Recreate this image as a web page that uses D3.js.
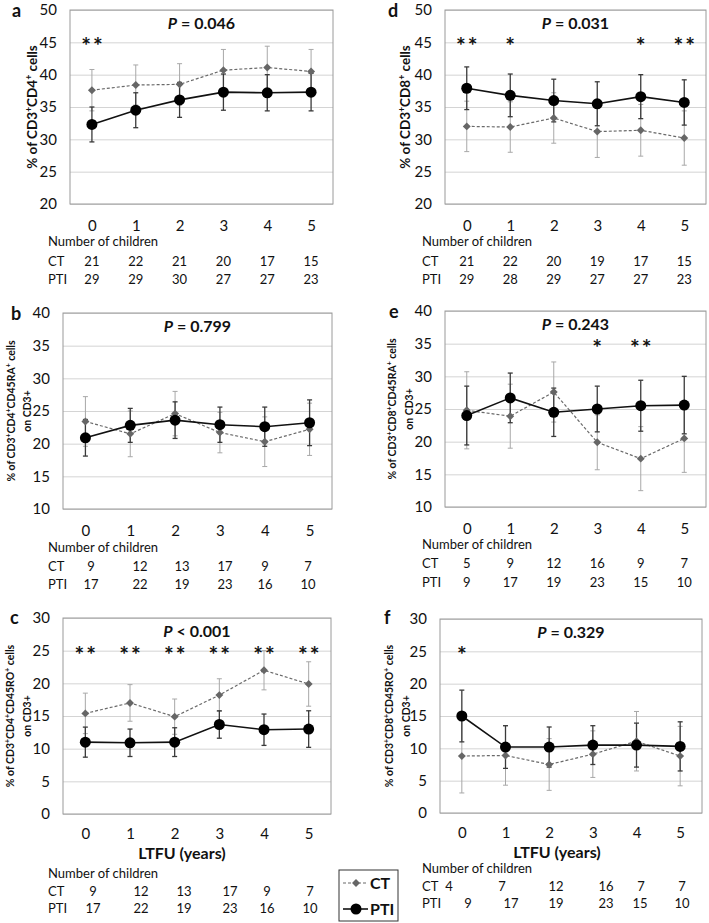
<!DOCTYPE html>
<html>
<head>
<meta charset="utf-8">
<script src="https://d3js.org/d3.v7.min.js"></script>
<style>
  body { margin: 0; background: #fff; }
  svg text { font-family: Lato, "Open Sans", sans-serif; fill: #111; }
</style>
</head>
<body>
<div id="chart"></div>
<script>
// LTFU years
const years = [0, 1, 2, 3, 4, 5];

// panel a: CD3+CD4+
const ctA = [37.6, 38.4, 38.5, 40.7, 41.1, 40.5];
const ctA_sd = [3.2, 3.1, 3.2, 3.2, 3.3, 3.4];
const ptiA = [32.3, 34.5, 36.1, 37.3, 37.2, 37.3];
const ptiA_sd = [2.7, 2.7, 2.7, 2.8, 2.8, 2.9];
const starsA = ["**", "", "", "", "", ""];
const nCtA = [21, 22, 21, 20, 17, 15];
const nPtiA = [29, 29, 30, 27, 27, 23];

// panel b: CD3+CD4+CD45RA+
const ctB = [23.4, 21.5, 24.6, 21.7, 20.3, 22.2];
const ctB_sd = [3.8, 3.5, 3.4, 3.1, 3.8, 4.0];
const ptiB = [20.9, 22.8, 23.6, 22.9, 22.6, 23.2];
const ptiB_sd = [2.8, 2.6, 2.8, 2.7, 3.0, 3.5];
const starsB = ["", "", "", "", "", ""];
const nCtB = [9, 12, 13, 17, 9, 7];
const nPtiB = [17, 22, 19, 23, 16, 10];

// panel c: CD3+CD4+CD45RO+
const ctC = [15.4, 17.0, 14.9, 18.2, 22.0, 19.9];
const ctC_sd = [3.1, 2.8, 2.7, 2.5, 3.0, 3.4];
const ptiC = [11.0, 10.9, 11.0, 13.7, 12.9, 13.0];
const ptiC_sd = [2.3, 2.1, 2.2, 2.1, 2.4, 2.8];
const starsC = ["**", "**", "**", "**", "**", "**"];
const nCtC = [9, 12, 13, 17, 9, 7];
const nPtiC = [17, 22, 19, 23, 16, 10];

// panel d: CD3+CD8+
const ctD = [32.0, 31.9, 33.3, 31.2, 31.4, 30.2];
const ctD_sd = [3.9, 3.9, 3.9, 4.0, 4.0, 4.2];
const ptiD = [37.9, 36.8, 36.0, 35.5, 36.6, 35.7];
const ptiD_sd = [3.3, 3.3, 3.3, 3.4, 3.4, 3.5];
const starsD = ["**", "*", "", "", "*", "**"];
const nCtD = [21, 22, 20, 19, 17, 15];
const nPtiD = [29, 28, 29, 27, 27, 23];

// panel e: CD3+CD8+CD45RA+
const ctE = [24.8, 23.9, 27.6, 19.9, 17.4, 20.5];
const ctE_sd = [5.9, 4.9, 4.6, 4.2, 4.9, 5.2];
const ptiE = [24.0, 26.7, 24.5, 25.0, 25.5, 25.6];
const ptiE_sd = [4.5, 3.8, 3.7, 3.5, 3.9, 4.4];
const starsE = ["", "", "", "*", "**", ""];
const nCtE = [5, 9, 12, 16, 9, 7];
const nPtiE = [9, 17, 19, 23, 15, 10];

// panel f: CD3+CD8+CD45RO+
const ctF = [8.8, 8.9, 7.5, 9.1, 11.1, 8.8];
const ctF_sd = [5.7, 4.6, 4.0, 3.6, 4.6, 4.6];
const ptiF = [15.0, 10.2, 10.2, 10.5, 10.5, 10.3];
const ptiF_sd = [4.0, 3.3, 3.1, 3.0, 3.4, 3.8];
const starsF = ["*", "", "", "", "", ""];
const nCtF = [4, 7, 12, 16, 7, 7];
const nPtiF = [9, 17, 19, 23, 15, 10];

// "^" = superscript plus
const panels = [
  { id: "a", p: " = 0.046", title: ["% of CD3^CD4^ cells"], yDom: [20, 50], starAt: 45,
    ct: ctA, ctSd: ctA_sd, pti: ptiA, ptiSd: ptiA_sd, stars: starsA, nCt: nCtA, nPti: nPtiA,
    box: [70, 333, 10, 204], tbl: { x: 48, nc: 241, ct: 261, pti: 279 }, titleX: [32], letter: [12, 17] },
  { id: "b", p: " = 0.799", title: ["% of CD3^CD4^CD45RA^ cells", "on CD3+"], yDom: [10, 40], starAt: 35,
    ct: ctB, ctSd: ctB_sd, pti: ptiB, ptiSd: ptiB_sd, stars: starsB, nCt: nCtB, nPti: nPtiB,
    box: [63, 332, 313, 509], tbl: { x: 48, nc: 547, ct: 566, pti: 584, cols: [91, 140, 182, 225, 265, 308] }, titleX: [11, 27], letter: [11, 320] },
  { id: "c", p: " < 0.001", title: ["% of CD3^CD4^CD45RO^ cells", "on CD3+"], yDom: [0, 30], starAt: 25,
    ct: ctC, ctSd: ctC_sd, pti: ptiC, ptiSd: ptiC_sd, stars: starsC, nCt: nCtC, nPti: nPtiC,
    box: [63, 331, 618, 814], tbl: { x: 48, nc: 873, ct: 891, pti: 908, cols: [93, 141, 184, 230, 267, 310] }, titleX: [10, 27], letter: [10, 624],
    ltfu: 182 },
  { id: "d", p: " = 0.031", title: ["% of CD3^CD8^ cells"], yDom: [20, 50], starAt: 45,
    ct: ctD, ctSd: ctD_sd, pti: ptiD, ptiSd: ptiD_sd, stars: starsD, nCt: nCtD, nPti: nPtiD,
    box: [445, 706, 10, 204], tbl: { x: 422, nc: 241, ct: 261, pti: 279 }, titleX: [405], letter: [388, 17] },
  { id: "e", p: " = 0.243", title: ["% of CD3^CD8^CD45RA^ cells", "on CD3+"], yDom: [10, 40], starAt: 35,
    ct: ctE, ctSd: ctE_sd, pti: ptiE, ptiSd: ptiE_sd, stars: starsE, nCt: nCtE, nPti: nPtiE,
    box: [445, 706, 311, 507], tbl: { x: 422, nc: 544, ct: 563, pti: 582 }, titleX: [392, 409], letter: [389, 318] },
  { id: "f", p: " = 0.329", title: ["% of CD3^CD8^CD45RO^ cells", "on CD3+"], yDom: [0, 30], starAt: 25,
    ct: ctF, ctSd: ctF_sd, pti: ptiF, ptiSd: ptiF_sd, stars: starsF, nCt: nCtF, nPti: nPtiF,
    box: [440, 702, 619, 813],
    tbl: { x: 422, nc: 868, ct: 886, pti: 903, cols: [449, 502, 556, 606, 641, 682], ptiCols: [468, 511, 556, 606, 640, 682] },
    titleX: [389, 406], letter: [384, 624], ltfu: 557 }
];

const W = 709, H = 923;
const svg = d3.select("#chart").append("svg").attr("width", W).attr("height", H);

function supText(sel, str) {
  str.split(/(\^)/).forEach(part => {
    if (part === "^") {
      sel.append("tspan").attr("baseline-shift", "super").attr("font-size", "0.65em").text("+");
    } else if (part) {
      sel.append("tspan").text(part);
    }
  });
}

panels.forEach(pn => {
  const [left, right, top, bottom] = pn.box;
  const g = svg.append("g");
  const x = d3.scalePoint().domain(years).range([left, right]).padding(0.5);
  const y = d3.scaleLinear().domain(pn.yDom).range([bottom, top]);

  // gridlines + y labels
  const yAx = g.append("g").attr("transform", `translate(${left},0)`)
    .call(d3.axisLeft(y).tickValues(d3.range(pn.yDom[0], pn.yDom[1] + 1, 5)).tickSize(-(right - left)).tickPadding(13));
  yAx.select(".domain").remove();
  yAx.selectAll("line").attr("stroke", "#d4d4d4").attr("stroke-width", 1);
  yAx.selectAll("text").attr("font-size", 15).attr("font-family", "Lato, sans-serif").attr("fill", "#111");

  g.append("rect").attr("x", left).attr("y", top).attr("width", right - left).attr("height", bottom - top)
    .attr("fill", "none").attr("stroke", "#9a9a9a").attr("stroke-width", 1);

  const xAx = g.append("g").attr("transform", `translate(0,${bottom})`)
    .call(d3.axisBottom(x).tickSize(0).tickPadding(pn.ltfu ? 14 : 16));
  xAx.select(".domain").remove();
  xAx.selectAll("text").attr("font-size", 15).attr("font-family", "Lato, sans-serif").attr("fill", "#111");

  const cap = 2.5;
  const errs = (vals, sds, color, sw) => {
    const eg = g.append("g").attr("stroke", color).attr("stroke-width", sw);
    years.forEach((yr, i) => {
      const cx = x(yr), y1 = y(vals[i] - sds[i]), y2 = y(vals[i] + sds[i]);
      eg.append("line").attr("x1", cx).attr("x2", cx).attr("y1", y1).attr("y2", y2);
      eg.append("line").attr("x1", cx - cap).attr("x2", cx + cap).attr("y1", y1).attr("y2", y1);
      eg.append("line").attr("x1", cx - cap).attr("x2", cx + cap).attr("y1", y2).attr("y2", y2);
    });
  };
  errs(pn.ct, pn.ctSd, "#a8a8a8", 1);
  errs(pn.pti, pn.ptiSd, "#3a3a3a", 1.3);

  const line = d3.line().x((d, i) => x(years[i])).y(d => y(d));
  g.append("path").datum(pn.ct).attr("d", line).attr("fill", "none")
    .attr("stroke", "#6a6a6a").attr("stroke-width", 1.2).attr("stroke-dasharray", "3,2");
  g.append("path").datum(pn.pti).attr("d", line).attr("fill", "none")
    .attr("stroke", "#111").attr("stroke-width", 1.6);

  g.selectAll(".ctpt").data(pn.ct).enter().append("path")
    .attr("d", d3.symbol(d3.symbolDiamond2, 40))
    .attr("transform", (d, i) => `translate(${x(years[i])},${y(d)})`)
    .attr("fill", "#666");
  g.selectAll(".ptipt").data(pn.pti).enter().append("circle")
    .attr("cx", (d, i) => x(years[i])).attr("cy", d => y(d)).attr("r", 5.5).attr("fill", "#000");

  // significance stars
  g.selectAll(".star").data(pn.stars).enter().append("text")
    .attr("x", (d, i) => x(years[i]) + 1).attr("y", y(pn.starAt) + 12)
    .attr("text-anchor", "middle").attr("font-size", 23).attr("font-weight", "bold")
    .attr("letter-spacing", 2).text(d => d);

  // P value
  const pt = g.append("text").attr("x", (left + right) / 2).attr("y", top + 19)
    .attr("text-anchor", "middle").attr("font-size", 16).attr("font-weight", "bold");
  pt.append("tspan").attr("font-style", "italic").text("P");
  pt.append("tspan").text(pn.p);

  // panel letter
  g.append("text").attr("x", pn.letter[0]).attr("y", pn.letter[1]).attr("font-size", 18)
    .attr("font-weight", "bold").text(pn.id);

  // y title
  const cy = (top + bottom) / 2;
  pn.title.forEach((t, k) => {
    const tt = g.append("text").attr("transform", `translate(${pn.titleX[k]},${cy}) rotate(-90)`)
      .attr("text-anchor", "middle").attr("dy", "0.35em")
      .attr("font-size", pn.title.length > 1 ? 10.5 : 13.5).attr("font-weight", "bold");
    supText(tt, t);
  });

  if (pn.ltfu) {
    g.append("text").attr("x", pn.ltfu).attr("y", bottom + 45).attr("text-anchor", "middle")
      .attr("font-size", 16).attr("font-weight", "bold").text("LTFU (years)");
  }

  // number table
  const tb = pn.tbl;
  const colX = cols => (cols ? (d, i) => cols[i] : (d, i) => x(years[i]));
  g.append("text").attr("x", tb.x).attr("y", tb.nc + 5).attr("font-size", 13).text("Number of children");
  [["CT", pn.nCt, tb.ct, tb.cols], ["PTI", pn.nPti, tb.pti, tb.ptiCols || tb.cols]].forEach(([lab, vals, ry, cols]) => {
    g.append("text").attr("x", tb.x).attr("y", ry + 5).attr("font-size", 13).text(lab);
    g.selectAll(null).data(vals).enter().append("text")
      .attr("x", colX(cols)).attr("y", ry + 5).attr("text-anchor", "middle")
      .attr("font-size", 13).text(d => d);
  });
});

// legend
const lg = svg.append("g");
lg.append("rect").attr("x", 339).attr("y", 870).attr("width", 59).attr("height", 51)
  .attr("fill", "#fff").attr("stroke", "#333").attr("stroke-width", 1);
lg.append("line").attr("x1", 343).attr("x2", 368).attr("y1", 883).attr("y2", 883)
  .attr("stroke", "#6a6a6a").attr("stroke-width", 1.2).attr("stroke-dasharray", "3,2");
lg.append("path").attr("d", d3.symbol(d3.symbolDiamond2, 40)).attr("transform", "translate(356,883)").attr("fill", "#666");
lg.append("text").attr("x", 370).attr("y", 889).attr("font-size", 16).attr("font-weight", "bold").text("CT");
lg.append("line").attr("x1", 343).attr("x2", 368).attr("y1", 909).attr("y2", 909)
  .attr("stroke", "#111").attr("stroke-width", 1.6);
lg.append("circle").attr("cx", 356).attr("cy", 909).attr("r", 5.5).attr("fill", "#000");
lg.append("text").attr("x", 370).attr("y", 915).attr("font-size", 16).attr("font-weight", "bold").text("PTI");
</script>
</body>
</html>
